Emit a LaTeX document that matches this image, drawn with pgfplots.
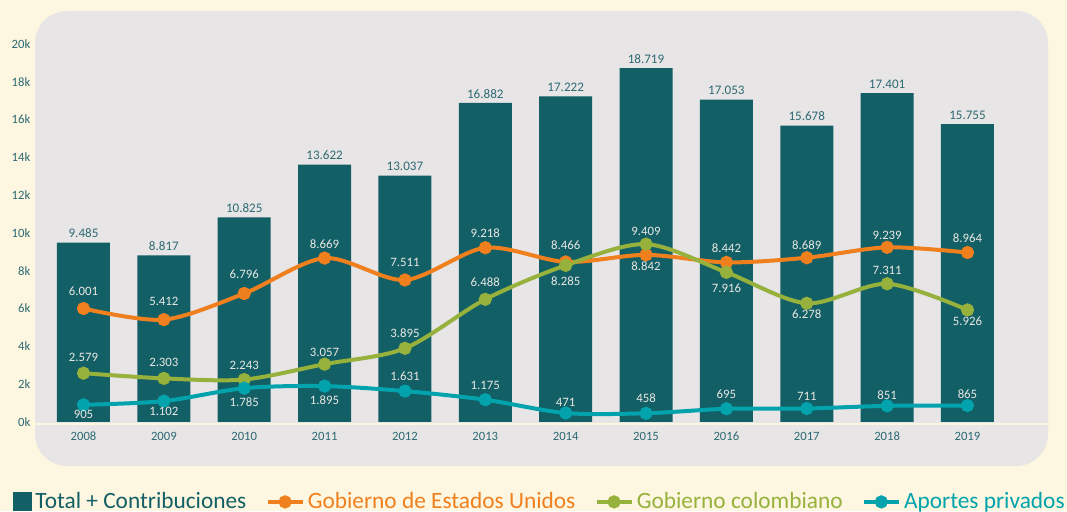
\documentclass[border=0pt]{standalone}
\usepackage{pgfplots}
\pgfplotsset{compat=1.18}
\usepackage{pgfplotstable}
\usepackage{fontspec}
\setmainfont{Carlito}

\definecolor{cCream}{HTML}{FDF6E0}
\definecolor{cPanel}{HTML}{E7E5E6}
\definecolor{cBar}{HTML}{135F66}
\definecolor{cTick}{HTML}{2D6A72}
\definecolor{cUSA}{HTML}{F07F1E}
\definecolor{cCol}{HTML}{96B13C}
\definecolor{cPriv}{HTML}{02A3AC}
\definecolor{cLab}{HTML}{E9E8E3}

% x = year index, y = value, p = label offset in px (negative = below)
\pgfplotstableread{
x y
0 9485
1 8817
2 10825
3 13622
4 13037
5 16882
6 17222
7 18719
8 17053
9 15678
10 17401
11 15755
}\totaltab

\pgfplotstableread{
x y p
0 6001 17
1 5412 18
2 6796 19
3 8669 14
4 7511 18
5 9218 15
6 8466 17
7 8842 -11
8 8442 14
9 8689 13
10 9239 12
11 8964 14
}\usatab

\pgfplotstableread{
x y p
0 2579 16
1 2303 16
2 2243 14
3 3057 12
4 3895 15
5 6488 17
6 8285 -16
7 9409 13
8 7916 -16
9 6278 -11
10 7311 13
11 5926 -11
}\coltab

\pgfplotstableread{
x y p
0 905 -10
1 1102 -10
2 1785 -14
3 1895 -14
4 1631 15
5 1175 14
6 471 11
7 458 15
8 695 15
9 711 12
10 851 11
11 865 11
}\privtab

\pgfplotsset{
  serie/.style={
    #1, line width=3pt, smooth, mark=*, mark size=3.4pt,
    mark options={solid, fill=#1},
    nodes near coords, point meta=explicit,
    visualization depends on={\thisrow{p} \as \lp},
    every node near coord/.append style={anchor=center, text=cLab,
      font=\fontsize{9.6}{10}\selectfont, yshift=\lp*0.75},
    legend image code/.code={
      \draw[##1, mark repeat=2, mark phase=2]
        plot coordinates {(0pt,0pt) (13.1pt,0pt) (26.25pt,0pt)};}
  },
}

\begin{document}
\begin{tikzpicture}
  \fill[cCream] (0,0) rectangle (800.25pt,383.25pt);
  \fill[cPanel, rounded corners=24pt] (26.25pt,33.75pt) rectangle (786pt,375pt);
  \begin{axis}[
    at={(26.25pt,65.25pt)}, anchor=south west,
    scale only axis, width=759.75pt, height=292.1pt,
    xmin=-0.6035, xmax=12.002, ymin=-110, ymax=20500,
    clip=false, scaled y ticks=false,
    axis x line*=bottom, axis y line*=left,
    x axis line style={-, draw=cCream, line width=2.2pt},
    y axis line style={draw=none},
    major tick length=0pt,
    xtick={0,...,11},
    xticklabels={2008,2009,2010,2011,2012,2013,2014,2015,2016,2017,2018,2019},
    ytick={0,2000,...,20000},
    yticklabels={0k,2k,4k,6k,8k,10k,12k,14k,16k,18k,20k},
    tick label style={text=cTick, font=\fontsize{9.5}{11}\selectfont},
    xticklabel style={yshift=-2.6pt},
    /pgf/number format/assume math mode=true,
    /pgf/number format/1000 sep={.},
    legend columns=4, legend cell align=left,
    legend style={at={(axis description cs:-0.0217,-0.2)}, anchor=west,
      draw=none, fill=none, inner sep=0pt,
      font=\fontsize{17.5}{20}\selectfont,
      nodes={inner sep=2.4pt},
      /tikz/every even column/.append style={column sep=12pt}},
  ]
    \addplot[ybar, bar width=39.75pt, fill=cBar, draw=none,
      nodes near coords,
      every node near coord/.append style={text=cTick, font=\fontsize{9.8}{10}\selectfont},
      legend image code/.code={\fill[cBar] (0pt,-7.1pt) rectangle (14.25pt,7.1pt);}]
      table[x=x, y=y] {\totaltab};
    \addlegendentry{\textcolor{cBar}{Total + Contribuciones}}

    \addplot[serie=cUSA] table[x=x, y=y, meta=y] {\usatab};
    \addlegendentry{\textcolor{cUSA}{Gobierno de Estados Unidos}}

    \addplot[serie=cCol] table[x=x, y=y, meta=y] {\coltab};
    \addlegendentry{\textcolor{cCol}{Gobierno colombiano}}

    \addplot[serie=cPriv] table[x=x, y=y, meta=y] {\privtab};
    \addlegendentry{\textcolor{cPriv}{Aportes privados}}
  \end{axis}
  \pgfresetboundingbox
  \path[use as bounding box] (0,0) rectangle (800.25pt,383.25pt);
\end{tikzpicture}
\end{document}
